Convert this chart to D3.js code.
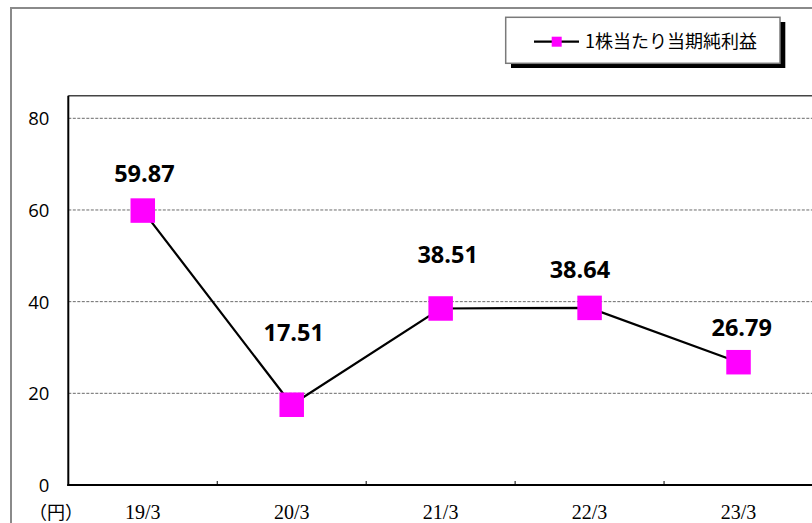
<!DOCTYPE html>
<html><head><meta charset="utf-8">
<script src="https://cdn.jsdelivr.net/npm/d3@7"></script>
<style>
html,body{margin:0;padding:0;background:#fff;}
svg{display:block;}
</style></head>
<body>
<svg id="chart" width="812" height="523"></svg>
<script>
// ---- data ----
const categories = ["19/3", "20/3", "21/3", "22/3", "23/3"];
const values = [59.87, 17.51, 38.51, 38.64, 26.79];
const valueLabels = ["59.87", "17.51", "38.51", "38.64", "26.79"];
const yTicks = [0, 20, 40, 60, 80];
const seriesName = "1株当たり当期純利益";
const unitLabel = "（円）";

// ---- layout (kept separate from data) ----
const labelOffsets = [[1.6,-28.3],[2,-64],[7,-45],[-9.7,-29.4],[3.2,-26.4]];
const plot = {left: 68.3, right: 813, top: 95.7, bottom: 485};

const svg = d3.select("#chart");

// outer chart border
svg.append("path")
  .attr("d", `M11,523 L11,8 L812,8`)
  .attr("fill","none").attr("stroke","#8a8a8a").attr("stroke-width",2);

const x = d3.scaleBand().domain(categories).range([plot.left, plot.right]).padding(0);
const y = d3.scaleLinear().domain([0, 80]).range([plot.bottom, 118.3]);

// gridlines
svg.append("g").selectAll("line").data(yTicks.filter(d => d > 0)).join("line")
  .attr("x1", plot.left).attr("x2", plot.right)
  .attr("y1", d => y(d)).attr("y2", d => y(d))
  .attr("stroke", "#6a6a6a").attr("stroke-width", 1).attr("stroke-dasharray", "3,1.5");

// plot area top border
svg.append("line").attr("x1", plot.left).attr("x2", plot.right)
  .attr("y1", plot.top).attr("y2", plot.top)
  .attr("stroke", "#444").attr("stroke-width", 1.5);

// y axis
const yAxis = d3.axisLeft(y).tickValues(yTicks).tickSize(0).tickPadding(19).tickFormat(d3.format("d"));
const gy = svg.append("g").attr("transform", `translate(${plot.left},0)`).call(yAxis);
gy.attr("font-size", null).attr("font-family", null);
gy.select(".domain").remove();
gy.selectAll("text")
  .style("font-family", "'Open Sans', 'Noto Sans', sans-serif")
  .style("font-size", "18.5px").attr("fill", "#000").attr("dy", "0.36em");
svg.append("line").attr("x1", plot.left).attr("x2", plot.left)
  .attr("y1", plot.top).attr("y2", plot.bottom + 1)
  .attr("stroke", "#000").attr("stroke-width", 2);

// x axis
const xAxis = d3.axisBottom(x).tickSize(0).tickPadding(20);
const gx = svg.append("g").attr("transform", `translate(0,${plot.bottom})`).call(xAxis);
gx.attr("font-size", null).attr("font-family", null);
gx.select(".domain").remove();
gx.selectAll("text")
  .style("font-family", "'Liberation Serif', 'DejaVu Serif', serif")
  .style("font-size", "20px").attr("fill", "#000").attr("dy", "0.71em");
svg.append("line").attr("x1", plot.left - 1).attr("x2", plot.right)
  .attr("y1", plot.bottom).attr("y2", plot.bottom)
  .attr("stroke", "#000").attr("stroke-width", 2);
// category boundary ticks
svg.append("g").selectAll("line").data(categories.slice(1)).join("line")
  .attr("x1", d => x(d)).attr("x2", d => x(d))
  .attr("y1", plot.bottom - 4).attr("y2", plot.bottom)
  .attr("stroke", "#000").attr("stroke-width", 1);

// unit label
svg.append("text").attr("x", 56).attr("y", 519)
  .attr("text-anchor", "middle")
  .style("font-family", "'Noto Sans CJK JP', sans-serif")
  .style("font-size", "18px").attr("fill", "#000").text(unitLabel);

// line
const line = d3.line().x((d, i) => x(categories[i]) + x.bandwidth() / 2).y(d => y(d));
svg.append("path").datum(values).attr("d", line)
  .attr("fill", "none").attr("stroke", "#000").attr("stroke-width", 2.2);

// markers
const ms = 24.5;
svg.append("g").selectAll("rect").data(values).join("rect")
  .attr("x", (d, i) => x(categories[i]) + x.bandwidth() / 2 - ms / 2)
  .attr("y", d => y(d) - ms / 2)
  .attr("width", ms).attr("height", ms)
  .attr("fill", "#ff00ff");

// value labels
svg.append("g").selectAll("text").data(values).join("text")
  .attr("x", (d, i) => x(categories[i]) + x.bandwidth() / 2 + labelOffsets[i][0])
  .attr("y", (d, i) => y(d) + labelOffsets[i][1])
  .attr("text-anchor", "middle")
  .style("font-family", "'Open Sans', 'Noto Sans', sans-serif")
  .attr("font-weight", 700).style("font-size", "23.5px").attr("fill", "#000")
  .text((d, i) => valueLabels[i]);

// legend
const lg = svg.append("g");
lg.append("rect").attr("x", 511).attr("y", 22).attr("width", 274.3).attr("height", 46).attr("fill", "#000");
lg.append("rect").attr("x", 505.7).attr("y", 17.3).attr("width", 274.3).attr("height", 46)
  .attr("fill", "#fff").attr("stroke", "#7a7a7a").attr("stroke-width", 1.5);
lg.append("line").attr("x1", 534).attr("x2", 579).attr("y1", 41.7).attr("y2", 41.7)
  .attr("stroke", "#000").attr("stroke-width", 2.2);
lg.append("rect").attr("x", 551.7).attr("y", 36.7).attr("width", 10).attr("height", 10).attr("fill", "#ff00ff");
lg.append("text").attr("x", 585).attr("y", 48)
  .style("font-family", "'Noto Sans CJK JP', sans-serif")
  .style("font-size", "18px").attr("fill", "#000").text(seriesName);
</script>
</body></html>
